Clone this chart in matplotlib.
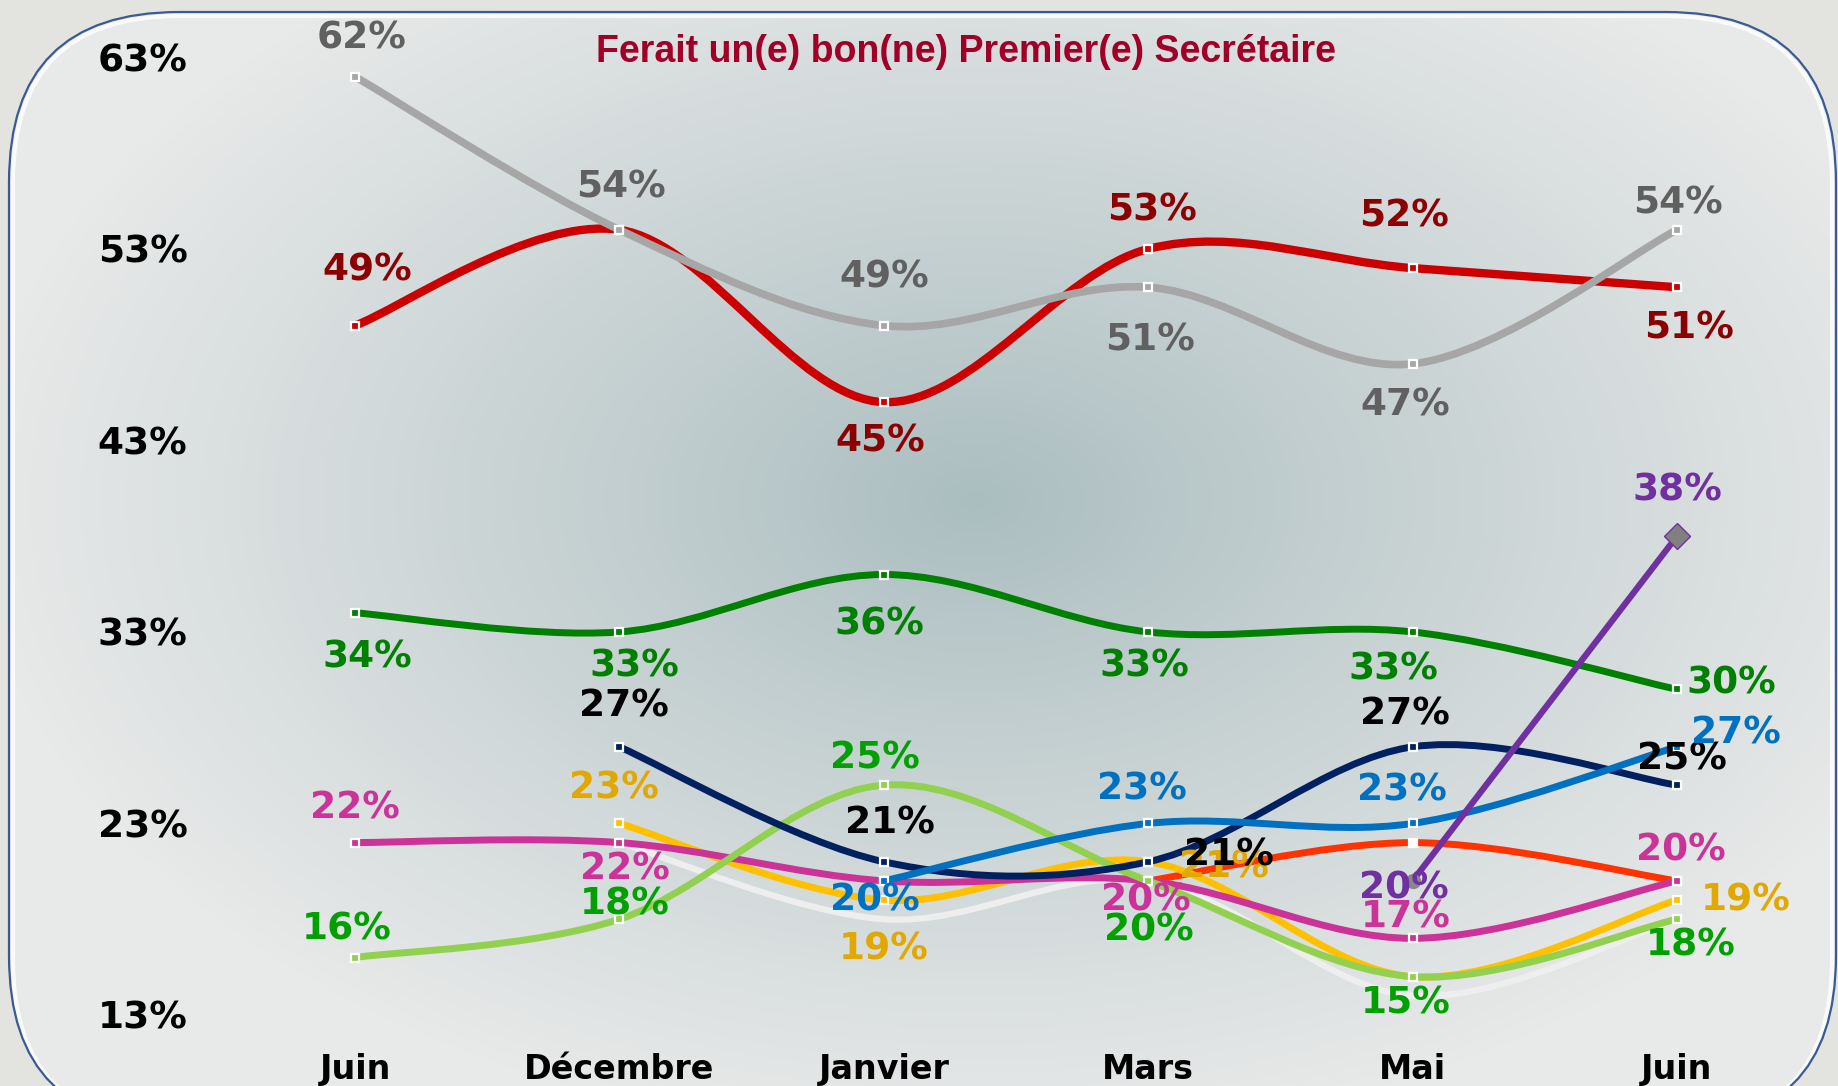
import numpy as np
import matplotlib.pyplot as plt
from matplotlib.path import Path
from matplotlib.patches import PathPatch, FancyBboxPatch

# Categories and axis labels
months = ['Juin', 'Décembre', 'Janvier', 'Mars', 'Mai', 'Juin']
yticks = [13, 23, 33, 43, 53, 63]
title = 'Ferait un(e) bon(ne) Premier(e) Secrétaire'

# Series values (None = no poll that month)
red = [49, 54, 45, 53, 52, 51]
grey = [62, 54, 49, 51, 47, 54]
green = [34, 33, 36, 33, 33, 30]
navy = [None, 27, 21, 21, 27, 25]
blue = [None, None, 20, 23, 23, 27]
orange = [None, None, None, 20, 22, 20]
pink = [22, 22, 20, 20, 17, 20]
yellow = [None, 23, 19, 21, 15, 19]
lightgreen = [16, 18, 25, 20, 15, 18]
purple = [None, None, None, None, 20, 38]
white = [None, 22, 18, 20, 14, 18]

# Style per series: line colour, label colour, line width (pt), label offsets (px, y up)
series = [
    (white, '#eeeeee', None, 4.5, None),
    (orange, '#ff3300', None, 5, None),
    (yellow, '#ffc000', '#e0a800', 5,
     [None, (-5, 35), (0, -49), (76, -6), None, (69, 0)]),
    (pink, '#cc3399', '#cc3399', 5,
     [(0, 34), (6, -27), None, (-2, -20), (-7, 21), (4, 30)]),
    (lightgreen, '#92d050', '#00a000', 5,
     [(-8, 28), (5, 15), (-9, 27), (1, -50), (-7, -27), (14, -26)]),
    (navy, '#002060', 'black', 5,
     [None, (5, 40), (6, 38), (81, 6), (-8, 32), (5, 26)]),
    (blue, '#0070c0', '#0070c0', 5,
     [None, None, (-9, -20), (-6, 34), (-11, 33), (59, 13)]),
    (green, '#008000', '#008000', 5,
     [(12, -45), (15, -35), (-4, -50), (-4, -35), (-19, -38), (54, 6)]),
    (red, '#cc0000', '#8b0000', 6,
     [(12, 55), None, (-4, -39), (4, 38), (-9, 52), (12, -41)]),
    (grey, '#a6a6a6', '#606060', 5.5,
     [(7, 38), (2, 42), (0, 48), (2, -53), (-7, -42), (1, 26)]),
    (purple, '#7030a0', '#7030a0', 4.5,
     [None, None, None, None, (-9, -8), (0, 46)]),
]


def smooth_path(xs, ys):
    # Excel-like smoothed line: Catmull-Rom converted to cubic Bezier
    pts = np.column_stack([xs, ys]).astype(float)
    n = len(pts)
    verts = [pts[0]]
    codes = [Path.MOVETO]
    for i in range(n - 1):
        p0 = pts[max(i - 1, 0)]
        p1 = pts[i]
        p2 = pts[i + 1]
        p3 = pts[min(i + 2, n - 1)]
        verts += [p1 + (p2 - p0) / 6, p2 - (p3 - p1) / 6, p2]
        codes += [Path.CURVE4] * 3
    return Path(verts, codes)


W, H = 1838, 1086
fig = plt.figure(figsize=(W / 100, H / 100), dpi=100)
fig.patch.set_facecolor('#e3e4e0')

# background panel with radial gradient (pixel coords, y up)
bg = fig.add_axes([0, 0, 1, 1])
X, Y = np.meshgrid(np.arange(W), np.arange(H))
d = np.sqrt(((X - 975) / 1000) ** 2 + ((Y - 500) / 640) ** 2)
t = np.clip(d, 0, 1) ** 0.9
c0 = np.array([170, 189, 191]) / 255
c1 = np.array([232, 233, 233]) / 255
img = c0[None, None, :] * (1 - t[..., None]) + c1[None, None, :] * t[..., None]
im = bg.imshow(img, extent=(0, W, 0, H), origin='upper', zorder=1)
frame = FancyBboxPatch((9, -40), 1827, H - 12 + 40, boxstyle='round,pad=0,rounding_size=170',
                       facecolor='none', edgecolor='#3a5a96', lw=1.6, zorder=3)
bg.add_patch(frame)
im.set_clip_path(frame)
inner = FancyBboxPatch((13, -40), 1819, H - 16 + 40, boxstyle='round,pad=0,rounding_size=166',
                       facecolor='none', edgecolor='white', lw=3, alpha=0.8, zorder=2)
bg.add_patch(inner)
bg.set_xlim(0, W)
bg.set_ylim(0, H)
bg.set_aspect('auto')
bg.axis('off')

# main chart axes
ax = fig.add_axes([0, 0, 1, 1])
ax.patch.set_alpha(0)
ax.set_xlim(-1.3427, 5.609)
ax.set_ylim(9.29, 66.0)
for s in ax.spines.values():
    s.set_visible(False)

font = dict(family='DejaVu Sans', weight='bold')
ax.set_yticks(yticks, [f'{v}%' for v in yticks])
ax.set_xticks(range(len(months)), months)
ax.tick_params(length=0)
ax.tick_params(axis='y', pad=-135)
ax.tick_params(axis='x', pad=-5)
for lab in ax.get_yticklabels():
    lab.set_fontproperties(font)
    lab.set_fontsize(27)
for lab in ax.get_xticklabels():
    lab.set_fontproperties(font)
    lab.set_fontsize(24)
    lab.set_va('baseline')

ax.text(2.31, 63.3, title, ha='center', va='center', color='#a00028',
        family='Liberation Sans', weight='bold', fontsize=27)

for k, (vals, col, lcol, lw, offs) in enumerate(series):
    xs = [i for i, v in enumerate(vals) if v is not None]
    ys = [v for v in vals if v is not None]
    z = 3 + k
    ax.add_patch(PathPatch(smooth_path(xs, ys), facecolor='none', edgecolor=col,
                           lw=lw, capstyle='round', zorder=z))
    if vals is purple:
        ax.plot(xs[0], ys[0], marker='o', ms=10, color='#888888', zorder=z + 0.5)
        ax.plot(xs[1], ys[1], marker='D', ms=13, color='#808080',
                mec='#7030a0', mew=1, zorder=z + 0.5)
    elif vals is not white:
        fc = 'white' if vals is orange else col
        ax.plot(xs, ys, ls='none', marker='s', ms=6, mfc=fc, mec='white',
                mew=1.6, zorder=z + 0.5)
    if offs is None:
        continue
    for i, v in enumerate(vals):
        if v is None or offs[i] is None:
            continue
        ax.annotate(f'{v}%', (i, v), xytext=offs[i], textcoords='offset pixels',
                    ha='center', va='center', color=lcol, fontsize=27,
                    zorder=20, **font)

fig.savefig('out.png', dpi=100, facecolor=fig.get_facecolor())
